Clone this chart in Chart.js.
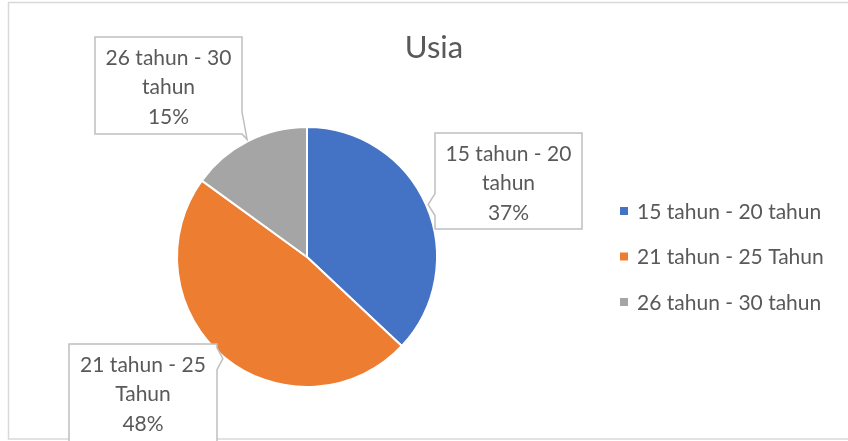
<!DOCTYPE html>
<html>
<head>
<meta charset="utf-8">
<script src="https://cdn.jsdelivr.net/npm/chart.js@4/dist/chart.umd.min.js"></script>
<style>
html,body{margin:0;padding:0;background:#fff;}
canvas{display:block;}
</style>
</head>
<body>
<canvas id="c" width="848" height="441"></canvas>
<script>
const chartTitle = "Usia";
const categories = ["15 tahun - 20 tahun", "21 tahun - 25 Tahun", "26 tahun - 30 tahun"];
const values = [37, 48, 15];
const colors = ["#4472C4", "#ED7D31", "#A5A5A5"];

const FONT = "Lato, 'Open Sans', sans-serif";
const TEXT = "#595959";

// callout boxes (layout only)
const boxes = [
  {x: 435, y: 133, w: 147, h: 96},
  {x: 69,  y: 344, w: 148, h: 120},
  {x: 95,  y: 37,  w: 147, h: 97}
];

function wrap(ctx, text, maxW) {
  const words = text.split(' ');
  const lines = [];
  let cur = '';
  for (const w of words) {
    const t = cur ? cur + ' ' + w : w;
    if (ctx.measureText(t).width > maxW && cur) { lines.push(cur); cur = w; }
    else cur = t;
  }
  if (cur) lines.push(cur);
  return lines;
}

const decor = {
  id: 'decor',
  afterDraw(chart) {
    const ctx = chart.ctx;
    ctx.save();
    // outer border
    ctx.strokeStyle = '#d9d9d9';
    ctx.lineWidth = 1.5;
    ctx.strokeRect(8.5, 2.5, 848, 436.5);

    // title
    ctx.fillStyle = TEXT;
    ctx.font = "31px " + FONT;
    ctx.textAlign = 'center';
    ctx.textBaseline = 'middle';
    ctx.fillText(chartTitle, 434, 48);

    // callouts
    const meta = chart.getDatasetMeta(0);
    const total = values.reduce((a, b) => a + b, 0);
    meta.data.forEach((arc, i) => {
      const b = boxes[i];
      const mid = (arc.startAngle + arc.endAngle) / 2;
      const r = arc.outerRadius + 2;
      const tx = arc.x + Math.cos(mid) * r;
      const ty = arc.y + Math.sin(mid) * r;
      const L = b.x, R = b.x + b.w, T = b.y, B = b.y + b.h;
      let pts;
      const hw = 11;
      const clamp = (v, a, z) => Math.max(a, Math.min(z, v));
      if (tx > R) {
        const cy = clamp(ty, T + hw, B - hw);
        pts = [[L,T],[R,T],[R,cy-hw],[tx,ty],[R,cy+hw],[R,B],[L,B]];
      } else if (tx < L) {
        const cy = clamp(ty, T + hw, B - hw);
        pts = [[L,T],[R,T],[R,B],[L,B],[L,cy+hw],[tx,ty],[L,cy-hw]];
      } else if (ty > B) {
        const cx = clamp(tx, L + hw, R - hw);
        pts = [[L,T],[R,T],[R,B],[cx+hw,B],[tx,ty],[cx-hw,B],[L,B]];
      } else {
        const cx = clamp(tx, L + hw, R - hw);
        pts = [[L,T],[cx-hw,T],[tx,ty],[cx+hw,T],[R,T],[R,B],[L,B]];
      }
      ctx.beginPath();
      pts.forEach((p, k) => k ? ctx.lineTo(p[0], p[1]) : ctx.moveTo(p[0], p[1]));
      ctx.closePath();
      ctx.fillStyle = '#fff';
      ctx.fill();
      ctx.strokeStyle = '#bfbfbf';
      ctx.lineWidth = 1.5;
      ctx.stroke();

      ctx.font = "21px " + FONT;
      ctx.fillStyle = TEXT;
      ctx.textAlign = 'center';
      ctx.textBaseline = 'middle';
      const lines = wrap(ctx, categories[i], b.w - 10);
      lines.push(Math.round(values[i] / total * 100) + '%');
      lines.forEach((ln, k) => ctx.fillText(ln, b.x + b.w / 2, b.y + 21 + k * 29.5));
    });

    // legend
    ctx.font = "21px " + FONT;
    ctx.textAlign = 'left';
    ctx.textBaseline = 'middle';
    categories.forEach((c, i) => {
      const y = 211 + i * 45.5;
      ctx.fillStyle = colors[i];
      ctx.fillRect(620, y - 4, 8, 8);
      ctx.fillStyle = TEXT;
      ctx.fillText(c, 637, y + 1);
    });
    ctx.restore();
  }
};

new Chart(document.getElementById('c'), {
  type: 'pie',
  data: {
    labels: categories,
    datasets: [{
      data: values,
      backgroundColor: colors,
      borderColor: '#ffffff',
      borderWidth: 2,
      hoverOffset: 0
    }]
  },
  options: {
    responsive: false,
    animation: false,
    events: [],
    layout: {padding: {left: 176, right: 410, top: 126, bottom: 53}},
    plugins: {
      legend: {display: false},
      title: {display: false},
      tooltip: {enabled: false}
    }
  },
  plugins: [decor]
});
</script>
</body>
</html>
